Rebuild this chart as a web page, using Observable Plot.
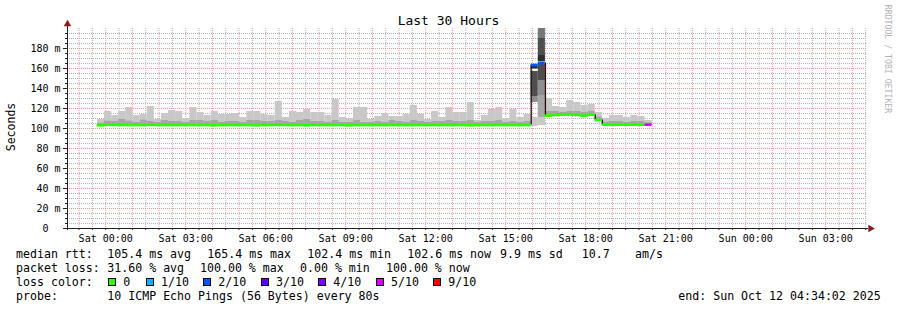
<!DOCTYPE html>
<html>
<head>
<meta charset="utf-8">
<script src="https://cdn.jsdelivr.net/npm/d3@7"></script>
<script src="https://cdn.jsdelivr.net/npm/@observablehq/plot@0.6"></script>
<style>
  html, body { margin: 0; padding: 0; background: #fff; }
  #wrap { position: relative; width: 897px; height: 310px; overflow: hidden;
          font-family: "DejaVu Sans Mono", monospace; color: #000; }
  #wrap svg { position: absolute; left: 0; top: 0; }
  .abs { position: absolute; white-space: pre; }
  #title { top: 14px; left: 0; width: 897px; text-align: center; font-size: 13px; line-height: 13px; }
  #ylabel { left: 11px; top: 127px; font-size: 11.5px; line-height: 12px;
            transform: translate(-50%, -50%) rotate(-90deg); }
  #credit { left: 886.5px; top: 59px; font-size: 8.2px; line-height: 9px; color: #b4b4b4;
            transform: translate(-50%, -50%) rotate(90deg); }
  .leg { font-size: 11.6px; line-height: 14px; }
  .box { position: absolute; width: 6px; height: 6px; border: 1px solid #000; }
</style>
</head>
<body>
<div id="wrap">
  <div id="title" class="abs">Last 30 Hours</div>
  <div id="ylabel" class="abs">Seconds</div>
  <div id="credit" class="abs">RRDTOOL / TOBI OETIKER</div>
</div>
<script>
// ---------------- data ----------------
const rangeStart = "2025-10-10T22:34:02Z";
const rangeEnd   = "2025-10-12T04:34:02Z";
const firstBarStart = "2025-10-10T23:41:20Z";
const stepMinutes = 16;

// top of the smoke (slowest ping), ms — null where a loss bar is drawn separately
const smokeMax = [
  109,117,113,117,121,113,114,122,109,115,
  118,117,110,121,116,113,117,114,114,115,
  111,117,117,114,113,127,111,117,116,119,
  116,116,113,129,111,110,121,121,109,112,
  115,112,112,114,123,114,109,117,111,121,
  116,116,126,108,113,119,121,110,119,111,
  114,null,null,130,122,121,128,126,123,124,
  116,110,113,113,111,113,112,108
];
// top of the darker inner smoke band, ms
const smokeMid = [
  105.3,107.3,107,109,107.3,106,108.3,107,106,108,
  107,107,106,108,108,107,108,106,107,107,
  106,108,108,107,107,108,107,106,108,109,
  107,107,106,108,106,106,108,106,106,107,
  106,108,107,106,108,107,106,107,107,108,
  107,107,108,106,107,107,108,106,107,106,
  107,null,null,117,117,116,117,117,116,117,
  111.3,106.3,107,107,106,107,107,105.5
];
// fastest ping, ms
const smokeMin = [
  102.4,102.4,102.4,102.4,102.4,102.4,102.4,102.4,102.4,102.4,
  102.4,102.4,102.4,102.4,102.4,102.4,102.4,102.4,102.4,102.4,
  102.4,102.4,102.4,102.4,102.4,102.4,102.4,102.4,102.4,102.4,
  102.4,102.4,102.4,102.4,102.4,102.4,102.4,102.4,102.4,102.4,
  102.4,102.4,102.4,102.4,102.4,102.4,102.4,102.4,102.4,102.4,
  102.4,102.4,102.4,102.4,102.4,102.4,102.4,102.4,102.4,102.4,
  102.4,null,null,112,112,112.5,112.5,112,112,112,
  107.5,102.8,102.8,102.8,102.8,102.8,102.8,102.8
];
// median rtt, ms
const medianRtt = [
  103.2,103.8,103.8,103.5,103.5,103.5,103.5,103.8,103.5,103.5,
  103.5,103.5,103.5,103.5,103.5,103.5,103.2,103.5,103.5,103.5,
  103.5,103.5,103.2,103.5,103.5,103.8,103.5,103.5,103.5,103.2,
  103.5,103.5,103.5,103.5,103.5,103.2,103.5,103.5,103.5,103.5,
  103.5,103.5,103.5,103.5,103.5,103.5,103.5,103.5,103.5,103.5,
  103.5,103.5,103.2,103.5,103.5,103.5,103.5,103.5,103.5,103.5,
  103.5,163.5,165.4,112.8,113.5,114,114,113.5,112.8,113.8,
  108.4,103.8,103.8,103.8,103.8,103.8,103.8,103.8
];
// lost pings out of 10 per bar
const lossTenths = [
  0,0,0,0,0,0,0,0,0,0, 0,0,0,0,0,0,0,0,0,0,
  0,0,0,0,0,0,0,0,0,0, 0,0,0,0,0,0,0,0,0,0,
  0,0,0,0,0,0,0,0,0,0, 0,0,0,0,0,0,0,0,0,0,
  0,2,2,0,0,0,0,0,0,0, 0,0,0,0,0,0,0,5
];
// smoke of the two lossy bars: [bar, from ms, to ms, shade level 0 (light) .. 5 (dark)]
const lossBarLayers = [
  [61, 102, 111, 0], [61, 126, 132, 2], [61, 132, 157, 4], [61, 159.5, 162.3, 5],
  [62, 103, 111, 0], [62, 111, 133, 1], [62, 133, 148, 2], [62, 148, 164.2, 4],
  [62, 166.6, 173, 5], [62, 173, 190, 4], [62, 190, 200, 3]
];
const majorY = [20, 40, 60, 80, 100, 120, 140, 160, 180];
const minorY = d3.range(5, 200, 5).filter(v => v % 20 !== 0);
const yTickValues = [0, 20, 40, 60, 80, 100, 120, 140, 160, 180];
const xLabelTicks = ["2025-10-11T00:00:00Z","2025-10-11T03:00:00Z","2025-10-11T06:00:00Z",
  "2025-10-11T09:00:00Z","2025-10-11T12:00:00Z","2025-10-11T15:00:00Z","2025-10-11T18:00:00Z",
  "2025-10-11T21:00:00Z","2025-10-12T00:00:00Z","2025-10-12T03:00:00Z"];

const lossLegend = [["0","#26ff00"],["1/10","#00b8ff"],["2/10","#0059ff"],["3/10","#5e00ff"],
  ["4/10","#7e00ff"],["5/10","#dd00ff"],["9/10","#ff0000"]];
const legendLines = [
  [[16,"median rtt:"],[107.3,"105.4 ms avg"],[207.3,"165.4 ms max"],[307.3,"102.4 ms min"],
   [407.3,"102.6 ms now"],[500,"9.9 ms sd"],[581.7,"10.7"],[635,"am/s"]],
  [[16,"packet loss:"],[107.3,"31.60 % avg"],[200,"100.00 % max"],[300,"0.00 % min"],[386,"100.00 % now"]],
  [[16,"loss color:"]],
  [[16,"probe:"],[107.3,"10 ICMP Echo Pings (56 Bytes) every 80s"],[678.3,"end: Sun Oct 12 04:34:02 2025"]]
];
const lossBoxX = [108.3, 146, 203.3, 261, 318.3, 376, 433.3];

// ---------------- build ----------------
const lossColor = {0:"#26ff00",1:"#00b8ff",2:"#0059ff",3:"#5e00ff",4:"#7e00ff",5:"#dd00ff",9:"#ff0000"};
const shade = ["#c8c8c8","#a6a6a6","#8e8e8e","#777777","#4e4e4e","#2e2e2e"];
const t0 = new Date(rangeStart), t1 = new Date(rangeEnd);
const stepMs = stepMinutes * 60000;
const fb = +new Date(firstBarStart);
const bars = smokeMax.map((mx, i) => ({
  i, a: new Date(fb + i * stepMs), b: new Date(fb + (i + 1) * stepMs),
  max: mx, mid: smokeMid[i], min: smokeMin[i], median: medianRtt[i], loss: lossTenths[i]
}));
const normal = bars.filter(d => d.max != null);
const layers = lossBarLayers.map(([bi, lo, hi, s]) => ({a: bars[bi].a, b: bars[bi].b, lo, hi, s}));
const connectors = [];
for (let i = 1; i < bars.length; i++) {
  if (Math.abs(bars[i].median - bars[i - 1].median) > 2)
    connectors.push({x: bars[i].a, y1: bars[i - 1].median, y2: bars[i].median});
}
const majorX = d3.utcHour.every(1).range(t0, t1);
const minorX = d3.utcMinute.every(30).range(t0, t1).filter(d => d.getUTCMinutes() === 30);
const allX = d3.utcMinute.every(30).range(t0, t1);
const pxMs = (+t1 - +t0) / 800;

const chart = Plot.plot({
  width: 897, height: 245,
  marginLeft: 67, marginRight: 30, marginTop: 28, marginBottom: 17,
  x: {type: "utc", domain: [t0, t1]},
  y: {domain: [0, 200]},
  style: {fontFamily: "'DejaVu Sans Mono', monospace", fontSize: "10px", background: "transparent", overflow: "visible", color: "#000"},
  marks: [
    Plot.ruleY(minorY, {stroke: "#b6b6b6", strokeDasharray: "1,1"}),
    Plot.ruleX(minorX, {stroke: "#b6b6b6", strokeDasharray: "1,1"}),
    Plot.ruleY(majorY, {stroke: "#f09a9a", strokeDasharray: "1,1"}),
    Plot.ruleX(majorX, {stroke: "#f09a9a", strokeDasharray: "1,1"}),
    Plot.rect(normal, {x1: "a", x2: "b", y1: "min", y2: "max", fill: shade[0]}),
    Plot.rect(normal, {x1: "a", x2: "b", y1: "min", y2: "mid", fill: shade[1]}),
    Plot.rect(layers, {x1: "a", x2: "b", y1: "lo", y2: "hi", fill: d => shade[d.s]}),
    Plot.ruleX(connectors, {x: "x", y1: "y1", y2: "y2", stroke: "#2a0c0c", strokeWidth: 1.3}),
    Plot.ruleY(bars, {y: "median", x1: "a", x2: "b", stroke: d => lossColor[d.loss], strokeWidth: 2.7}),
    // axes
    Plot.ruleY([0], {x1: new Date(+t0 - 4 * pxMs), x2: new Date(+t1 + 1 * pxMs), stroke: "#222"}),
    Plot.ruleX([t0], {y1: -2, y2: 203, stroke: "#222"}),
    Plot.dot([t0], {x: d => d, y: 204.5, symbol: "triangle", r: 2.8, fill: "#8a1c1c", stroke: "none"}),
    Plot.dot([t1], {x: d => new Date(+d + 3 * pxMs), y: 0, symbol: "triangle", r: 2.8, rotate: 90, fill: "#8a1c1c", stroke: "none"}),
    Plot.axisY({ticks: minorY, tickSize: 2, tickFormat: () => "", stroke: "#222"}),
    Plot.axisY({ticks: yTickValues, tickSize: 4, tickPadding: 3, stroke: "#222",
      tickFormat: d => d === 0 ? "0\u00a0\u00a0" : `${d} m`}),
    Plot.axisX({ticks: allX, tickSize: 2, tickFormat: () => "", stroke: "#222"}),
    Plot.axisX({ticks: xLabelTicks.map(s => new Date(s)), tickSize: 0, tickPadding: 6,
      tickFormat: d3.utcFormat("%a %H:%M")})
  ]
});
const wrap = document.getElementById("wrap");
wrap.insertBefore(chart, wrap.firstChild);

// legend
const lineTops = [247, 261, 275, 289];
legendLines.forEach((segs, li) => {
  segs.forEach(([x, txt]) => {
    const s = document.createElement("div");
    s.className = "abs leg";
    s.style.left = x + "px"; s.style.top = lineTops[li] + "px";
    s.textContent = txt;
    wrap.appendChild(s);
  });
});
lossLegend.forEach(([label, col], k) => {
  const b = document.createElement("div");
  b.className = "box";
  b.style.left = lossBoxX[k] + "px"; b.style.top = "278.3px"; b.style.background = col;
  wrap.appendChild(b);
  const t = document.createElement("div");
  t.className = "abs leg";
  t.style.left = (lossBoxX[k] + 15) + "px"; t.style.top = lineTops[2] + "px";
  t.textContent = label;
  wrap.appendChild(t);
});
</script>
</body>
</html>
